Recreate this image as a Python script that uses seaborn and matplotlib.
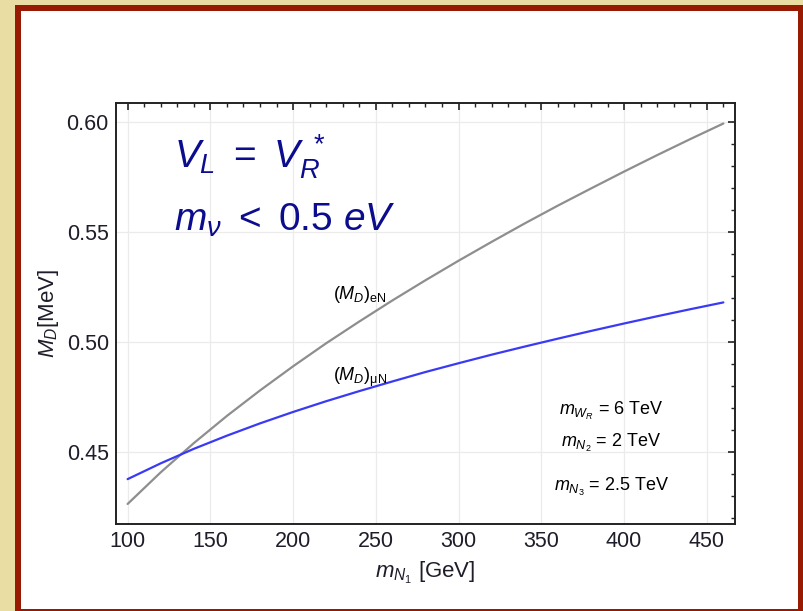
import matplotlib
matplotlib.use("Agg")
import matplotlib.pyplot as plt
import seaborn as sns
import pandas as pd
from matplotlib.patches import Rectangle
from matplotlib.ticker import MultipleLocator

# ---- data ----
m_N1 = [100, 120, 140, 160, 180, 200, 220, 240, 260, 280, 300,
        320, 340, 360, 380, 400, 420, 440, 460]
MD_eN = [0.4262, 0.4406, 0.4539, 0.4663, 0.4779, 0.4889, 0.4994, 0.5093, 0.5189,
         0.5281, 0.5370, 0.5456, 0.5540, 0.5621, 0.5699, 0.5776, 0.5851, 0.5924, 0.5995]
MD_muN = [0.4375, 0.4447, 0.4513, 0.4573, 0.4629, 0.4681, 0.4730, 0.4776, 0.4820,
          0.4863, 0.4903, 0.4942, 0.4979, 0.5015, 0.5050, 0.5084, 0.5117, 0.5149, 0.5180]
x_ticks = [100, 150, 200, 250, 300, 350, 400, 450]
y_ticks = [0.45, 0.50, 0.55, 0.60]

sns.set_theme(style="white")
plt.rcParams['font.family'] = ['Liberation Sans', 'DejaVu Sans']
plt.rcParams['mathtext.fontset'] = 'custom'
plt.rcParams['mathtext.rm'] = 'Liberation Sans'
plt.rcParams['mathtext.it'] = 'Liberation Sans:italic'
plt.rcParams['mathtext.bf'] = 'Liberation Sans:bold'

W, H = 804, 611
fig = plt.figure(figsize=(W / 100, H / 100), dpi=100)
fig.patch.set_facecolor('#E9DDA4')

# slide frame
fig.add_artist(Rectangle((15 / W, 0), 1 - 15 / W, 606 / H, transform=fig.transFigure,
                         facecolor='#991A02', edgecolor='none', zorder=0))
fig.add_artist(Rectangle((21 / W, 2 / H), (798.5 - 21) / W, (600 - 2) / H,
                         transform=fig.transFigure, facecolor='white',
                         edgecolor='none', zorder=0))

ax = fig.add_axes([115.7 / W, (H - 523.7) / H, (735.3 - 115.7) / W, (523.7 - 103.3) / H])
ax.set_facecolor('white')

df = pd.DataFrame({
    'm': m_N1 + m_N1,
    'MD': MD_eN + MD_muN,
    'series': ['eN'] * len(m_N1) + ['muN'] * len(m_N1),
})
sns.lineplot(data=df, x='m', y='MD', hue='series',
             palette={'eN': '#8E8E8E', 'muN': '#3A3AF5'},
             linewidth=1.6, legend=False, ax=ax, zorder=3)

ax.set_xlim(92.8, 467.2)
ax.set_ylim(0.4172, 0.6087)
ax.set_xticks(x_ticks)
ax.set_yticks(y_ticks)
ax.set_xticklabels([str(v) for v in x_ticks])
ax.set_yticklabels([f"{v:.2f}" for v in y_ticks])
ax.xaxis.set_minor_locator(MultipleLocator(10))
ax.yaxis.set_minor_locator(MultipleLocator(0.01))
ax.grid(True, which='major', color='#EBEBEB', linewidth=0.9, zorder=0)

tick_color = '#1E1E2A'
ax.tick_params(which='major', direction='in', top=True, right=True, length=5,
               width=1.2, labelsize=15.5, labelcolor=tick_color, color='#222222', pad=5)
ax.tick_params(which='minor', direction='in', top=True, right=True, length=3,
               width=1.0, color='#222222')
for s in ax.spines.values():
    s.set_color('#222222')
    s.set_linewidth(1.4)

ax.set_xlabel(r'$m_{N_1}$ [GeV]', fontsize=16, color=tick_color, labelpad=6)
ax.set_ylabel(r'$M_D$[MeV]', fontsize=16, color=tick_color, labelpad=4)

navy = '#0C0C8E'
ax.text(0.094, 0.872, r'$V_L\ =\ V_R^{\ *}$', transform=ax.transAxes,
        fontsize=28, color=navy, ha='left', va='center')
ax.text(0.094, 0.722, r'$m_\nu\ <\ 0.5\ eV$', transform=ax.transAxes,
        fontsize=28, color=navy, ha='left', va='center')

ax.text(0.351, 0.545, r'$(M_D)_{\rm eN}$', transform=ax.transAxes,
        fontsize=13, color='black', ha='left', va='center')
ax.text(0.351, 0.347, r'$(M_D)_{\rm \mu N}$', transform=ax.transAxes,
        fontsize=13, color='black', ha='left', va='center')

ax.text(0.80, 0.268, r'$m_{W_R}$ = 6 TeV', transform=ax.transAxes,
        fontsize=13, color='black', ha='center', va='center')
ax.text(0.80, 0.192, r'$m_{N_2}$ = 2 TeV', transform=ax.transAxes,
        fontsize=13, color='black', ha='center', va='center')
ax.text(0.80, 0.087, r'$m_{N_3}$ = 2.5 TeV', transform=ax.transAxes,
        fontsize=13, color='black', ha='center', va='center')

fig.savefig('out.png', dpi=100, facecolor=fig.get_facecolor())
